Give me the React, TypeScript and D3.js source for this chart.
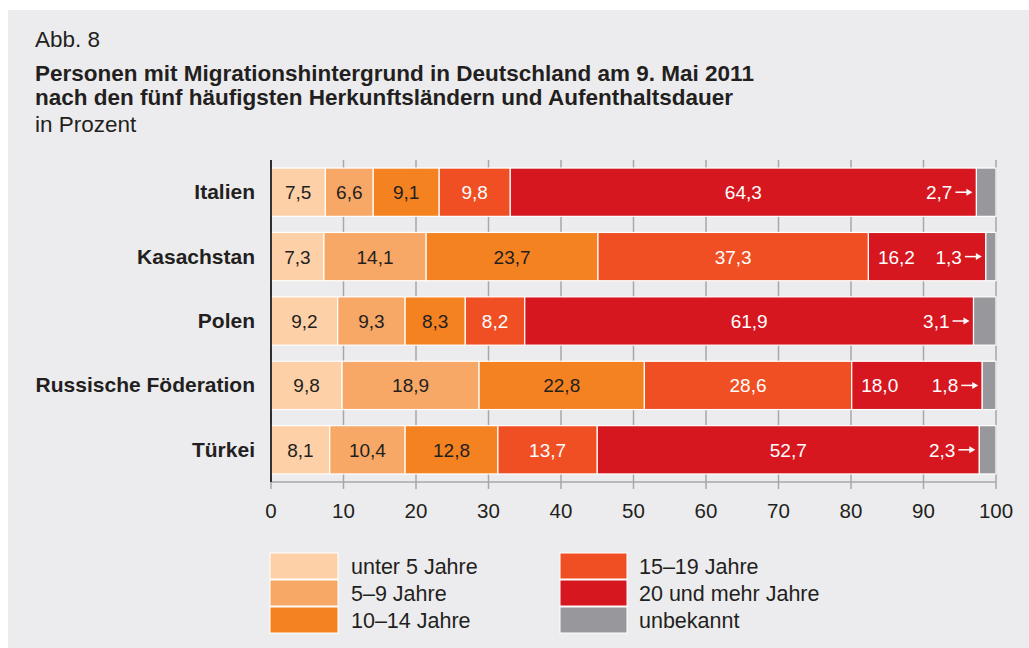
import React from "react";
import * as d3 from "d3";

// Daten: Anteile in Prozent je Herkunftsland und Aufenthaltsdauer
const countries = ["Italien", "Kasachstan", "Polen", "Russische Föderation", "Türkei"];
const categories = ["unter 5 Jahre", "5–9 Jahre", "10–14 Jahre", "15–19 Jahre", "20 und mehr Jahre", "unbekannt"];
const unter5 = [7.5, 7.3, 9.2, 9.8, 8.1];
const j5bis9 = [6.6, 14.1, 9.3, 18.9, 10.4];
const j10bis14 = [9.1, 23.7, 8.3, 22.8, 12.8];
const j15bis19 = [9.8, 37.3, 8.2, 28.6, 13.7];
const j20plus = [64.3, 16.2, 61.9, 18.0, 52.7];
const unbekannt = [2.7, 1.3, 3.1, 1.8, 2.3];
const ticks = [0, 10, 20, 30, 40, 50, 60, 70, 80, 90, 100];

const colors = ["#fdd0a7", "#f8a866", "#f58220", "#f04e23", "#d6171f", "#98989c"];
const textColors = ["#231f20", "#231f20", "#231f20", "#ffffff", "#ffffff"];

const series = [unter5, j5bis9, j10bis14, j15bis19, j20plus, unbekannt];

const FONT = "'Liberation Sans', Arial, Helvetica, sans-serif";
const fmt = (v: number) => v.toFixed(1).replace(".", ",");

export default function App() {
  const width = 1029;
  const height = 648;

  const x = d3.scaleLinear().domain([0, 100]).range([271, 996]);
  const y = d3.scaleBand<string>().domain(countries).range([160, 482]).paddingInner(0.25).paddingOuter(0.125);

  // gestapelte Segmente je Land
  const rows = countries.map((c, i) => {
    let acc = 0;
    const segs = series.map((s, k) => {
      const x0 = acc;
      acc += s[i];
      return { k, v: s[i], x0, x1: k === series.length - 1 ? 100 : acc };
    });
    return { country: c, segs };
  });

  const legendRowH = 27;

  return (
    <svg width={width} height={height} style={{ display: "block", position: "absolute", left: 0, top: 0 }}>
      <rect x={8} y={10} width={width - 8} height={height - 10} fill="#ececee" />

      <g fontFamily={FONT} fill="#231f20">
        <text x={35} y={47} fontSize={22.5}>Abb. 8</text>
        <text x={35} y={81} fontSize={22.5} fontWeight="bold">Personen mit Migrationshintergrund in Deutschland am 9. Mai 2011</text>
        <text x={35} y={105} fontSize={22.5} fontWeight="bold">nach den fünf häufigsten Herkunftsländern und Aufenthaltsdauer</text>
        <text x={35} y={132} fontSize={22.5}>in Prozent</text>
      </g>

      {/* Gitterlinien */}
      {ticks.map((t) => (
        <line key={t} x1={x(t)} x2={x(t)} y1={160} y2={489} stroke="#a7a7aa" strokeWidth={1.5} />
      ))}
      <line x1={x(0)} x2={x(100)} y1={482} y2={482} stroke="#a7a7aa" strokeWidth={1.5} />

      {/* Balken */}
      {rows.map((r) => {
        const y0 = y(r.country)!;
        const bh = y.bandwidth();
        const cy = y0 + bh / 2;
        return (
          <g key={r.country}>
            {r.segs.map((s) => (
              <rect key={s.k} x={x(s.x0)} y={y0} width={x(s.x1) - x(s.x0)} height={bh}
                fill={colors[s.k]} stroke="#ffffff" strokeWidth={1.2} />
            ))}
            {r.segs.slice(0, 5).map((s) => {
              const w = x(s.x1) - x(s.x0);
              const lx = s.k === 4 && w < 150 ? x(s.x0) + 28 : (x(s.x0) + x(s.x1)) / 2;
              return (
                <text key={s.k} x={lx} y={cy + 7} textAnchor="middle" fontFamily={FONT}
                  fontSize={19} fill={textColors[s.k]}>{fmt(s.v)}</text>
              );
            })}
            {(() => {
              const end = x(r.segs[4].x1);
              return (
                <g>
                  <text x={end - 24} y={cy + 7} textAnchor="end" fontFamily={FONT} fontSize={19} fill="#ffffff">
                    {fmt(r.segs[5].v)}
                  </text>
                  <line x1={end - 21} x2={end - 9} y1={cy} y2={cy} stroke="#ffffff" strokeWidth={1.5} />
                  <path d={`M${end - 4},${cy} L${end - 10},${cy - 3.5} L${end - 10},${cy + 3.5} Z`} fill="#ffffff" />
                </g>
              );
            })()}
            <text x={255} y={cy + 7} textAnchor="end" fontFamily={FONT} fontSize={21} fontWeight="bold" fill="#231f20">
              {r.country}
            </text>
          </g>
        );
      })}

      {/* Achsenlinie links */}
      <line x1={x(0)} x2={x(0)} y1={160} y2={482} stroke="#231f20" strokeWidth={1.8} />

      {/* Tick-Beschriftung */}
      {ticks.map((t) => (
        <text key={t} x={x(t)} y={518} textAnchor="middle" fontFamily={FONT} fontSize={20.5} fill="#231f20">{t}</text>
      ))}

      {/* Legende */}
      {categories.map((c, k) => {
        const col = Math.floor(k / 3);
        const row = k % 3;
        const sx = col === 0 ? 270 : 560;
        const sy = 553 + row * legendRowH;
        return (
          <g key={c}>
            <rect x={sx} y={sy} width={col === 0 ? 68 : 67} height={legendRowH - 1} fill={colors[k]} stroke="#ffffff" strokeWidth={1} />
            <text x={col === 0 ? 351 : 639} y={sy + 21} fontFamily={FONT} fontSize={21.5} fill="#231f20">{c}</text>
          </g>
        );
      })}
    </svg>
  );
}
